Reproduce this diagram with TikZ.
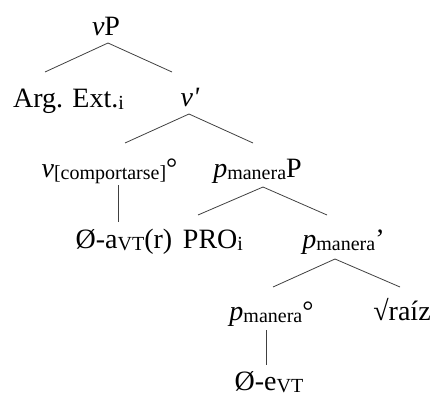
\documentclass[tikz,border=0pt]{standalone}
\usepackage{fontspec}
\setmainfont{Liberation Serif}
\newcommand{\sbs}[1]{\raisebox{-0.1em}{\fontsize{20}{20}\selectfont #1}}

\begin{document}
\begin{tikzpicture}[x=1pt, y=-1pt,
		lbl/.style={anchor=base, inner sep=0pt, font=\fontsize{28}{30}\selectfont},
		branch/.style={draw=black!75, line width=0.8pt}]
				\useasboundingbox (0,0) rectangle (436,396);

				% Labels
				\node[lbl] (vP) at (106,36) {\textit{v}P};
				\node[lbl] (arg) at (68.5,107) {Arg. Ext.\sbs{i}};
				\node[lbl] (vbar) at (190,106) {\textit{v\textquotesingle}};
				\node[lbl] (vcomp) at (109.5,177) {\textit{v}\sbs{[comportarse]}°};
				\node[lbl] (pP) at (257.5,177) {\textit{p}\sbs{manera}P};
				\node[lbl] (oa) at (124,248) {Ø-a\sbs{VT}(r)};
				\node[lbl] (pro) at (213,248) {PRO\sbs{i}};
				\node[lbl] (pbar) at (343.5,248) {\textit{p}\sbs{manera}’};
				\node[lbl] (pzero) at (271.5,320) {\textit{p}\sbs{manera}°};
				\node[lbl] (raiz) at (402,320) {√raíz};
				\node[lbl] (oe) at (269,390) {Ø-e\sbs{VT}};

				% Branches
				\draw[branch] ([xshift=2pt,yshift=-7pt]vP.base) -- ([xshift=-23.5pt,yshift=35pt]arg.base);
				\draw[branch] ([xshift=2pt,yshift=-7pt]vP.base) -- ([xshift=-18pt,yshift=34pt]vbar.base);
				\draw[branch] ([xshift=-1pt,yshift=-8pt]vbar.base) -- ([xshift=15.5pt,yshift=34pt]vcomp.base);
				\draw[branch] ([xshift=-1pt,yshift=-8pt]vbar.base) -- ([xshift=-4.5pt,yshift=34pt]pP.base);
				\draw[branch] ([xshift=8.5pt,yshift=-8pt]vcomp.base) -- ([xshift=-6pt,yshift=26pt]oa.base);
				\draw[branch] ([xshift=5.5pt,yshift=-10pt]pP.base) -- ([xshift=-15pt,yshift=33pt]pro.base);
				\draw[branch] ([xshift=5.5pt,yshift=-10pt]pP.base) -- ([xshift=-16.5pt,yshift=33pt]pbar.base);
				\draw[branch] ([xshift=-8.5pt,yshift=-11pt]pbar.base) -- ([xshift=1.5pt,yshift=33pt]pzero.base);
				\draw[branch] ([xshift=-8.5pt,yshift=-11pt]pbar.base) -- ([xshift=-2pt,yshift=33pt]raiz.base);
				\draw[branch] ([xshift=-5.5pt,yshift=-10pt]pzero.base) -- ([xshift=-3pt,yshift=25pt]oe.base);
			\end{tikzpicture}
\end{document}
